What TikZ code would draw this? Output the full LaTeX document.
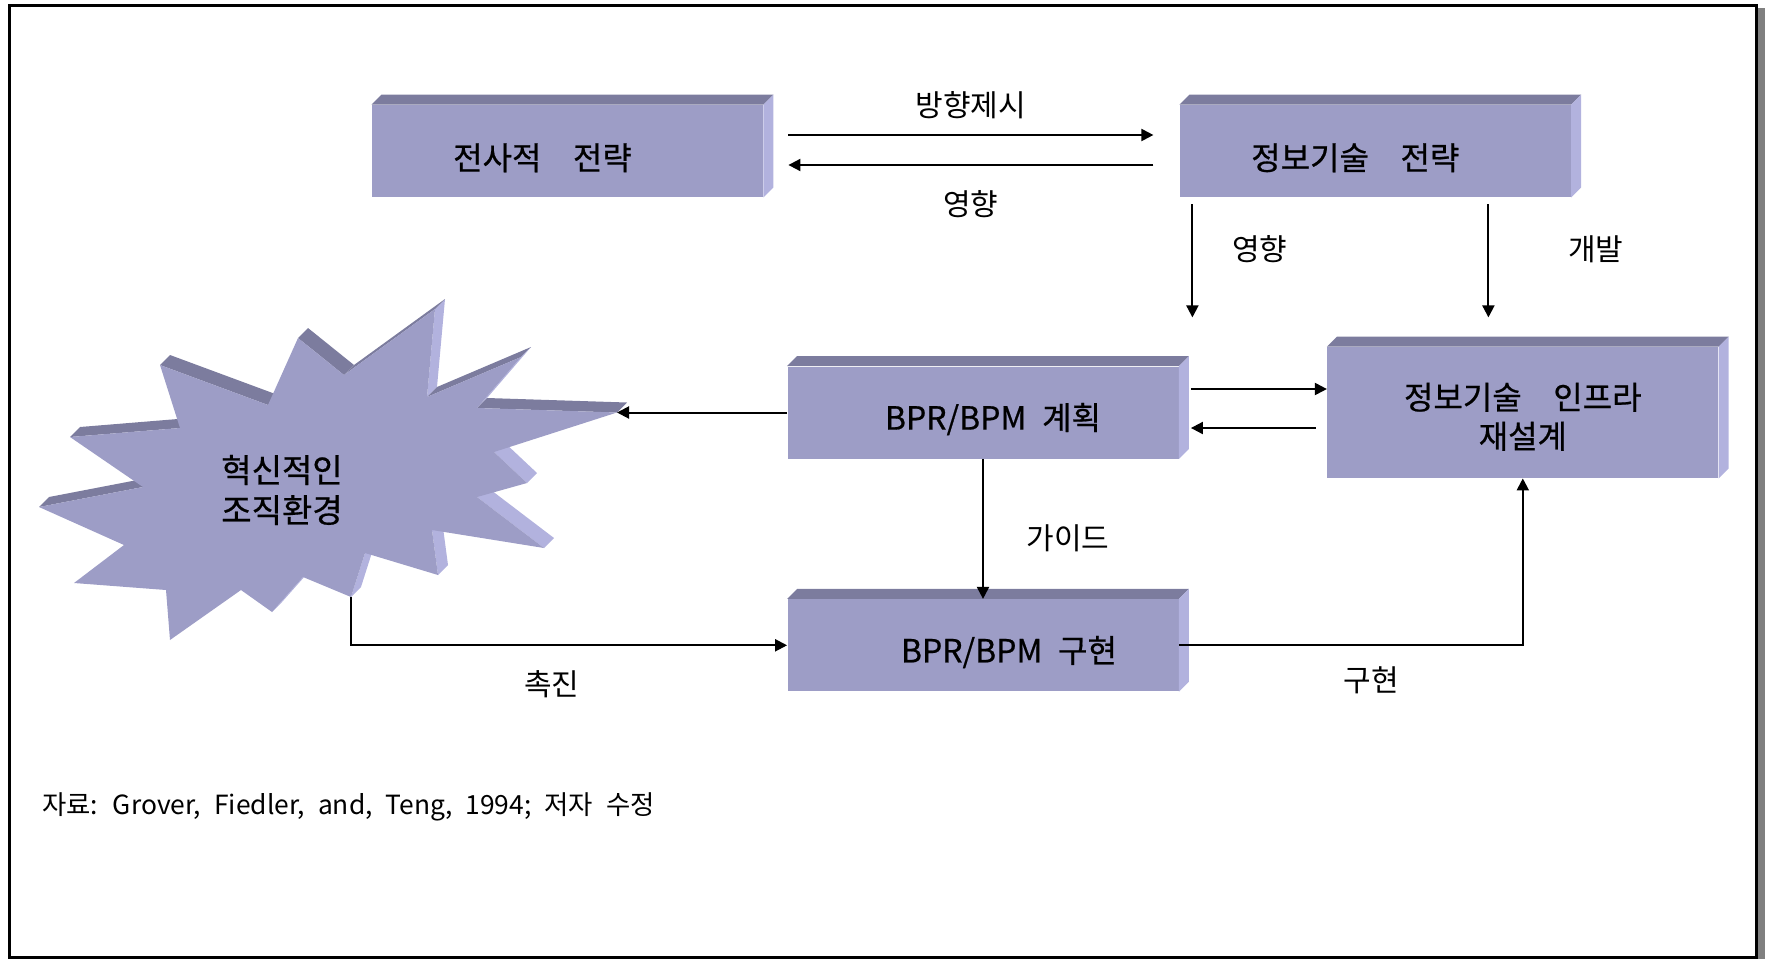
\documentclass[tikz,border=0pt]{standalone}
\usepackage{fontspec}
\setmainfont{Noto Sans CJK KR}[WordSpace=2.2]
\newfontfamily\boxfont{Noto Sans CJK KR}[WordSpace=2.2, FakeBold=0.6]
\usepackage{tikz}
\usetikzlibrary{arrows.meta, positioning, calc}

\definecolor{boxfront}{RGB}{157,157,198}
\definecolor{boxtop}{RGB}{124,124,158}
\definecolor{boxside}{RGB}{178,178,222}

\begin{document}
\begin{tikzpicture}[
    x=0.5pt, y=-0.5pt,
    box/.style={rectangle, fill=boxfront, inner sep=0pt, minimum width=195.5pt, minimum height=46pt, text height=20pt, font=\boxfont\fontsize{16}{17.5}\selectfont},
    tx/.style={execute at begin node={\hspace*{#1}}},
    topface/.style={fill=boxtop},
    sideface/.style={fill=boxside},
    arrow/.style={-{Triangle[length=6pt, width=6pt]}, line width=1pt},
    lbl/.style={font=\fontsize{15}{17}\selectfont}
]

% Frame
\useasboundingbox (0,0) rectangle (1765,959);
\fill[black!50] (1757,8) rectangle (1765,959);
\draw[line width=1.5pt] (9.5,5) rectangle (1756,957.5);

% Nodes
\node[box, tx=-25pt] (b1) at (567.5,151) {전사적\ \ 전략};
\node[box, tx=-20pt, right=208pt of b1] (b2) {정보기술\ \ 전략};
\node[box, tx=10pt] (b3) at (983,412.5) {BPR/BPM 계획};
\node[box, tx=26pt, below=70pt of b3] (b4) {BPR/BPM 구현};
\node[box, align=center, minimum height=65.5pt, text height=37pt, font=\boxfont\fontsize{16}{19.5}\selectfont, right=74pt of b3] (b5) {정보기술\ \ 인프라\\재설계};

\foreach \n in {b1,b2,b3,b4,b5} {
  \fill[topface] (\n.north west) -- ++(5pt,5pt) -- ([shift={(5pt,5pt)}]\n.north east) -- (\n.north east) -- cycle;
  \fill[sideface] (\n.north east) -- ++(5pt,5pt) -- ([shift={(5pt,5pt)}]\n.south east) -- (\n.south east) -- cycle;
}

% Starburst
\foreach \px/\py [count=\i] in {435/309, 427/397, 521/357, 477/408, 617/412.5, 494/452, 527/483, 477/497, 544/548, 432/530, 438/575, 365/553, 351/597, 303/577, 272/612, 241/590, 170/640, 166/590, 74/583, 124/545, 39/507, 143/487, 70/437, 180/428, 160/365, 268/405, 298/338, 344/375}
  \coordinate (s\i) at (\px,\py);
\foreach \a/\b/\fc in {1/2/sideface, 2/3/topface, 3/4/sideface, 4/5/topface, 6/7/sideface, 8/9/sideface, 10/11/sideface, 12/13/sideface, 14/15/sideface, 21/22/topface, 23/24/topface, 25/26/topface, 27/28/topface, 28/1/topface}
  \fill[\fc] (s\a) -- (s\b) -- ([shift={(5pt,5pt)}]s\b) -- ([shift={(5pt,5pt)}]s\a) -- cycle;
\fill[boxfront] (s1) \foreach \i in {2,...,28} {-- (s\i)} -- cycle;
\node[align=center, font=\boxfont\fontsize{16.5}{20}\selectfont] (burst) at (282,490) {혁신적인\\조직환경};

% Source
\node[anchor=west, font=\fontsize{13.2}{15}\selectfont] (src) at (35,807) {자료: Grover, Fiedler, and, Teng, 1994; 저자 수정};

% Arrows
\coordinate (d1) at ([shift={(6.5pt,-60pt)}]b2.south west);
\coordinate (d2) at ([shift={(154.5pt,-60pt)}]b2.south west);
\draw[arrow] ([shift={(12.5pt,8pt)}]b1.east) -- node[lbl, above=4pt] {방향제시} ([shift={(-13pt,8pt)}]b2.west);
\draw[arrow] ([shift={(-13pt,-7pt)}]b2.west) -- node[lbl, below=9pt] {영향} ([shift={(12.5pt,-7pt)}]b1.east);
\draw[arrow] ([shift={(6.5pt,-3.5pt)}]b2.south west) -- node[lbl, right=16pt, pos=0.4] {영향} (d1);
\draw[arrow] ([shift={(154.5pt,-3.5pt)}]b2.south west) -- node[lbl, right=36pt, pos=0.4] {개발} (d2);
\draw[arrow] ([shift={(6pt,11.75pt)}]b3.east) -- ([yshift=11.75pt]b5.west);
\draw[arrow] ([shift={(-5.5pt,-7.75pt)}]b5.west) -- ([shift={(6pt,-7.75pt)}]b3.east);
\draw[arrow] (b3.west) -- (s5);
\draw[arrow] (b3) -- node[lbl, right=18pt, pos=0.57] {가이드} (b4);
\draw[arrow] (s13) |- node[lbl, below=9pt, pos=0.73] {촉진} (b4.west);
\draw[arrow] (b4.east) -| node[lbl, below=7pt, pos=0.28] {구현} (b5.south);

\end{tikzpicture}
\end{document}
